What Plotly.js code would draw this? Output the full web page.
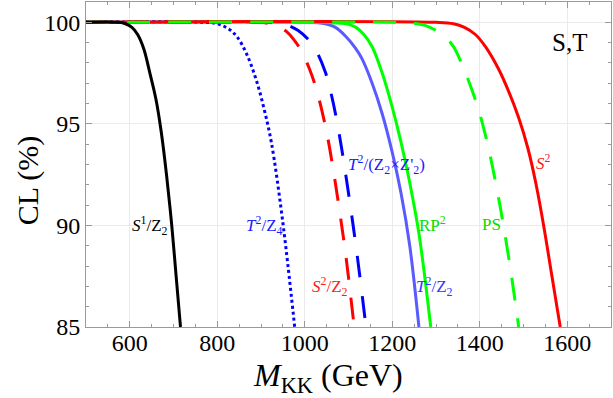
<!DOCTYPE html>
<html>
<head>
<meta charset="utf-8">
<script src="https://cdn.plot.ly/plotly-3.0.1.min.js"></script>
<style>
  body { margin: 0; background: #fff; }
  #cl-plot { width: 613px; height: 398px; }
</style>
</head>
<body>
<div id="cl-plot"></div>
<script>
// M_KK (GeV) and CL (%), one pair of arrays per model
var mS1Z2 = [500, 575, 590, 605, 618, 632, 646, 660, 672, 684, 696, 706, 716];
var clS1Z2 = [100, 100, 99.93, 99.75, 99.4, 98.7, 97.5, 96.2, 94.6, 92.5, 90.0, 87.5, 85.0];

var mT2Z4 = [500, 770, 800, 825, 845, 867, 889, 908, 924, 949, 977];
var clT2Z4 = [100, 100, 99.93, 99.69, 99.29, 98.45, 97.17, 95.65, 94.05, 90.3, 85.0];

var mS2Z2 = [500, 900, 920, 940, 958, 975, 992, 1010, 1028, 1049, 1064, 1079, 1094, 1113];
var clS2Z2 = [100, 100, 99.93, 99.8, 99.55, 99.15, 98.6, 97.75, 96.6, 94.7, 92.9, 90.8, 88.5, 85.0];

var mT2Z2Z2p = [500, 910, 940, 962, 985, 1006, 1026, 1047, 1058, 1072, 1085, 1104, 1120, 1140];
var clT2Z2Z2p = [100, 100, 99.97, 99.85, 99.6, 99.2, 98.6, 97.55, 96.7, 95.3, 93.7, 91.0, 88.5, 85.0];

var mT2Z2 = [500, 1010, 1040, 1070, 1094, 1115, 1131, 1154, 1177, 1200, 1220, 1240, 1261];
var clT2Z2 = [100, 100, 99.95, 99.75, 99.3, 98.75, 98.2, 97.0, 95.5, 93.6, 91.6, 89.0, 85.0];

var mRP2 = [500, 1040, 1070, 1100, 1117, 1135, 1154, 1177, 1199, 1220, 1240, 1261, 1288];
var clRP2 = [100, 100, 99.97, 99.9, 99.75, 99.4, 98.8, 97.5, 95.9, 94.1, 92.1, 89.6, 85.0];

var mPS = [500, 1210, 1245, 1275, 1300, 1320, 1340, 1360, 1380, 1400, 1420, 1440, 1455, 1472, 1489];
var clPS = [100, 100, 99.97, 99.85, 99.6, 99.3, 98.8, 97.9, 96.8, 95.5, 93.8, 91.7, 89.9, 87.6, 85.0];

var mS2 = [500, 1300, 1340, 1365, 1390, 1413, 1443, 1466, 1489, 1510, 1528, 1546, 1565, 1584];
var clS2 = [100, 100, 99.93, 99.75, 99.4, 98.8, 97.7, 96.6, 95.3, 93.8, 92.1, 90.0, 87.5, 85.0];

// curve labels: text, position (M, CL), colour
var labelText = ["<i>S</i><sup>1</sup>/Z<sub>2</sub>", "<i>T</i><sup>2</sup>/Z<sub>4</sub>",
  "<i>S</i><sup>2</sup>/Z<sub>2</sub>", "<i>T</i><sup>2</sup>/(Z<sub>2</sub>×Z'<sub>2</sub>)",
  "RP<sup>2</sup>", "PS", "<i>S</i><sup>2</sup>", "<i>T</i><sup>2</sup>/Z<sub>2</sub>"];
var labelM = [646, 908, 1058, 1186, 1293, 1427, 1546, 1297];
var labelCL = [90.0, 90.0, 87.0, 93.0, 90.05, 90.05, 93.1, 87.0];
var labelColor = ["#000000", "#1a1aff", "#ff1a1a", "#1a1aff", "#00dd00", "#00dd00", "#ff1a1a", "#3535ff"];

var serif = "Liberation Serif";

function curve(x, y, color, dash) {
  return {
    x: x, y: y, type: "scatter", mode: "lines",
    line: {color: color, width: 3, dash: dash, shape: "spline", smoothing: 1},
    hoverinfo: "skip", showlegend: false
  };
}

// bottom to top, so the flat 100% line shows green dashes over red like the original
var data = [
  curve(mT2Z2, clT2Z2, "#5a5aff", "solid"),
  curve(mRP2, clRP2, "#00ff00", "solid"),
  curve(mT2Z4, clT2Z4, "#0000ff", "dot"),
  curve(mT2Z2Z2p, clT2Z2Z2p, "#0000ff", "22px,19px"),
  curve(mS2, clS2, "#ff0000", "solid"),
  curve(mS2Z2, clS2Z2, "#ff0000", "22px,18px"),
  curve(mPS, clPS, "#00ff00", "23px,18px"),
  curve(mS1Z2, clS1Z2, "#000000", "solid")
];

var annotations = labelText.map(function(t, i) {
  return {
    x: labelM[i], y: labelCL[i], xref: "x", yref: "y", text: t, showarrow: false,
    font: {family: serif, size: 17, color: labelColor[i]}
  };
});
annotations.push({
  x: 1606, y: 99.0, xref: "x", yref: "y", text: "S,T", showarrow: false,
  font: {family: serif, size: 25, color: "#000"}
});
// axis titles placed where the original has them
annotations.push({
  x: 0.461, y: -0.154, xref: "paper", yref: "paper", text: "<i>M</i><sub>KK</sub> (GeV)",
  showarrow: false, xanchor: "center", yanchor: "middle",
  font: {family: serif, size: 32, color: "#000"}
});
annotations.push({
  x: -0.11, y: 0.452, xref: "paper", yref: "paper", text: "CL (%)", textangle: -90,
  showarrow: false, xanchor: "center", yanchor: "middle",
  font: {family: serif, size: 30, color: "#000"}
});

var axisStyle = {
  showline: true, linecolor: "#9a9a9a", linewidth: 1, mirror: "allticks",
  ticks: "inside", ticklen: 6, tickcolor: "#9a9a9a", tickwidth: 1,
  showgrid: true, gridcolor: "#ebebeb", gridwidth: 1, zeroline: false,
  tickfont: {family: serif, size: 24, color: "#000"}
};

var layout = {
  width: 613, height: 398, autosize: false,
  margin: {l: 86, r: 2, t: 2, b: 71},
  paper_bgcolor: "#fff", plot_bgcolor: "#fff",
  font: {family: serif},
  xaxis: Object.assign({}, axisStyle, {
    range: [500, 1700], tick0: 0, dtick: 200, ticklabelstandoff: -6,
    minor: {dtick: 50, ticks: "inside", ticklen: 3, tickcolor: "#9a9a9a", showgrid: false}
  }),
  yaxis: Object.assign({}, axisStyle, {
    range: [85, 101], tick0: 85, dtick: 5,
    minor: {dtick: 1, ticks: "inside", ticklen: 3, tickcolor: "#9a9a9a", showgrid: false}
  }),
  annotations: annotations
};

Plotly.newPlot("cl-plot", data, layout, {staticPlot: true});
</script>
</body>
</html>
